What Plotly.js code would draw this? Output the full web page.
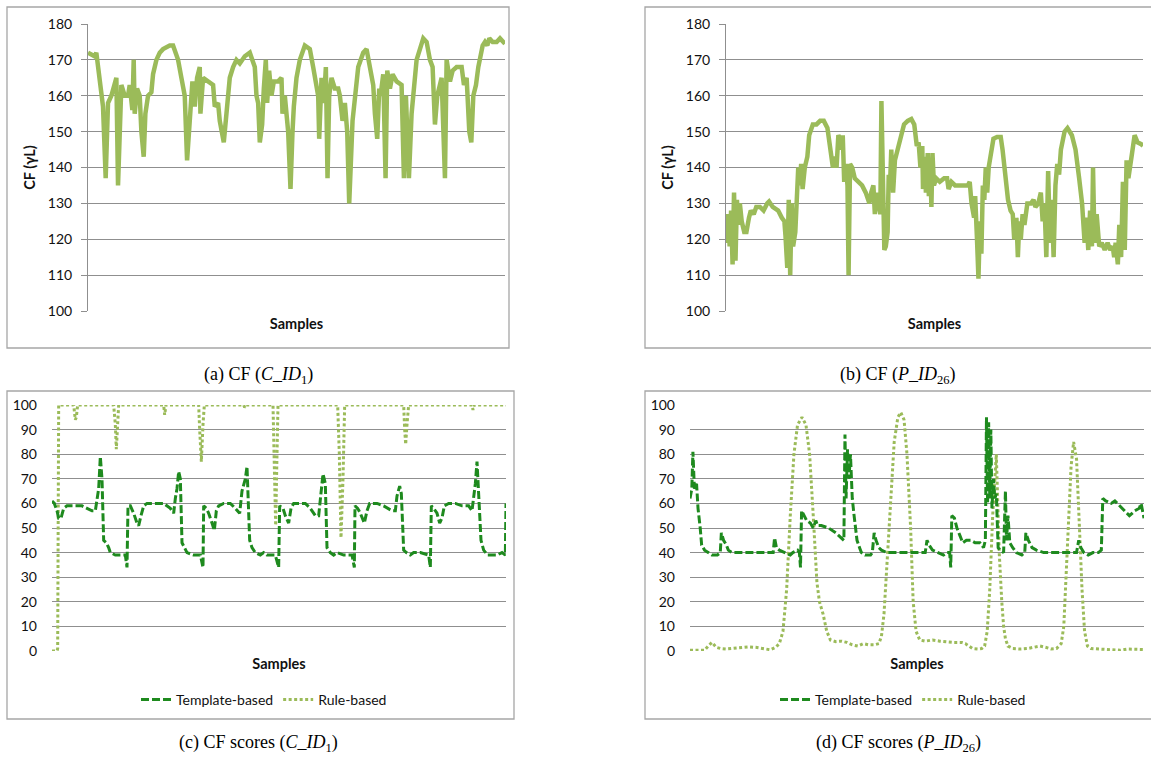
<!DOCTYPE html>
<html><head><meta charset="utf-8">
<script src="https://cdn.plot.ly/plotly-3.0.1.min.js"></script>
<style>html,body{margin:0;padding:0;background:#fff}#chart{width:1151px;height:760px}</style>
</head><body><div id="chart"></div>
<script>
// ---------- (a) CF (C_ID1) ----------
const sampA = [265,285,290,295,303,310,318,325,335,345,350,355,365,375,385,390,398,402,405,412,420,425,432,437,445,455,460,470,480,490,510,520,535,545,555,562,570,578,585,592,600,602,610,625,640,645,655,660,668,672,680,685,690,700,710,720,735,750,765,770,775,780,787,792,798,802,808,815,822,835,845,848,855,865,872,878,882,890,900,915,930,940,948,955,958,965,972,978,983,988,995,1005,1015,1020,1028,1035,1042,1048,1058,1065,1075,1090,1100,1110,1120,1125,1132,1138,1142,1150,1157,1162,1170,1178,1190,1205,1212,1218,1227,1235,1240,1250,1260,1270,1280,1290,1298,1305,1312,1325,1335,1340,1350,1358,1370,1385,1392,1400,1408,1414,1420,1428,1435,1448,1455,1462,1468,1478,1490,1500,1510,1515];
const cfA   = [172,171,172,168,163,157,137,158,160,163,165,135,163,160,160,163,156,170,155,162,160,150,143,155,160,161,166,170,172,173,174,174,170,165,160,142,155,164,157,165,168,155,165,164,163,157,158,153,148,147,155,160,165,168,170,169,171,172,168,160,158,147,152,162,170,158,167,160,164,164,165,155,160,150,134,150,157,165,170,174,173,168,163,160,148,165,158,168,137,160,165,162,162,160,153,158,150,130,153,160,168,172,173,168,163,155,148,162,160,166,137,167,162,166,164,163,137,160,137,155,160,170,173,176,175,170,168,152,160,165,137,170,164,167,168,168,163,165,150,147,160,163,168,174,175,174,176,175,175,176,175,174.5];

// ---------- (b) CF (P_ID26) ----------
const sampB = [402,405,408,412,416,420,424,428,432,436,440,445,452,458,465,470,478,485,495,505,515,520,530,545,555,562,565,570,574,578,582,586,592,596,600,604,608,612,618,625,630,640,650,660,670,680,685,690,695,700,705,710,715,720,722,726,730,735,738,742,748,755,765,775,785,795,800,806,810,815,820,825,828,833,836,840,845,848,852,855,860,865,872,880,890,900,910,918,925,930,935,940,942,946,950,955,958,962,965,968,972,978,988,1000,1008,1012,1020,1030,1040,1055,1065,1070,1075,1082,1085,1090,1094,1098,1102,1106,1110,1114,1118,1122,1128,1135,1145,1155,1160,1168,1175,1182,1188,1192,1198,1202,1206,1210,1215,1220,1228,1238,1245,1250,1258,1265,1270,1275,1280,1285,1290,1295,1300,1305,1310,1315,1320,1330,1338,1350,1360,1370,1378,1385,1390,1395,1400,1405,1408,1412,1418,1425,1432,1440,1448,1455,1462,1466,1470,1476,1480,1485,1490,1495,1500,1505,1510,1515,1522,1530,1540,1545];
const cfB   = [121,119,127,118,128,113,133,114,131,124,130,125,122,122,126,128,127,129,129,128,130,130.5,129,128,126,125,121,112,131,110,130,118,122,134,140,135,141,134,140,143,149,152,152,153,153,151,147,145,140,143,140,149,148,145,149,136,141,135,110,141,140,137,136,135,133,130,133,135,127,133,130,127,158.5,132,117,118,122,138,136,145,133,142,145,149,152,153,153.5,152,146,147,140,146,134,143,133,144,132,141,129,144,135,137,136,137,137,134,136,135,135,135,135,136,130,126,132,120,109,125,116,135,131,140,133,140,144,148,148.5,148.5,145,138,131,128,127,120,126,115,125,120,127,124,130,130,131,129,130,133,125,130,115,139,119,131,115,135,141,138,145,150,151,149,145,137,130,119,126,117,128,118,140,119,127,118,119,117,119,117,118,115,119,113,124,115,136,117,142,137,142,144,149,147,146.5,146];

// ---------- (c) CF scores (C_ID1) ----------
const sampCTemplate = [155,162,170,175,182,190,200,230,245,260,275,285,290,295,300,305,310,318,325,330,345,375,380,383,390,400,410,415,422,430,440,470,490,510,520,525,530,535,540,545,552,560,580,600,608,610,618,625,635,642,648,655,670,690,705,718,725,735,740,748,755,765,780,790,800,825,835,838,848,855,865,872,880,900,915,930,945,955,962,968,975,980,990,1000,1010,1030,1055,1062,1064,1072,1080,1092,1100,1108,1130,1150,1175,1185,1190,1198,1203,1210,1218,1230,1240,1260,1285,1290,1293,1300,1310,1318,1325,1332,1345,1365,1385,1405,1415,1420,1425,1430,1435,1442,1450,1462,1480,1490,1505,1515,1517];
const templateC = [61,60,57,54,54,58,59,59,59,58,57,57,62,66,79,70,45,44,42,40,39,39,34,59,59,56,52,51,55,59,60,60,60,58,56,62,66,73,70,44,42,40,39,39,34,59,58,56,52,49,57,59,60,60,58,56,65,70,75,45,42,40,39,40,39,39,34,59,58,55,52,58,60,60,60,58,55,55,65,72,68,42,40,39,40,39,39,34,59,58,56,52,57,60,60,59,57,57,63,67,64,41,40,39,40,40,39,34,59,58,56,52,54,59,60,60,59,59,57,63,68,77,65,45,41,39,39,39,40,39,60];
const sampCRule = [155,170,172,175,220,225,228,232,340,345,348,352,355,490,493,497,595,598,603,608,612,730,733,737,818,822,826,830,833,1012,1017,1022,1028,1033,1210,1213,1216,1220,1225,1415,1418,1422,1517];
const ruleC = [0,0,1,100,100,94,95,100,100,92,82,90,100,100,96,100,100,90,77,92,100,100,99,100,100,75,51,80,100,100,80,46,70,100,100,90,84,92,100,100,98,100,100];

// ---------- (d) CF scores (P_ID26) ----------
const sampDTemplate = [300,305,308,312,318,322,328,332,340,350,360,375,383,386,392,400,405,415,440,470,500,528,532,537,545,560,575,582,595,600,603,606,612,620,630,638,645,650,660,680,700,715,722,725,728,732,736,740,745,750,758,765,770,780,795,800,805,810,818,825,840,870,900,930,945,950,956,965,980,995,1005,1012,1015,1018,1025,1032,1040,1048,1058,1070,1082,1095,1105,1110,1113,1116,1119,1122,1125,1128,1132,1136,1140,1145,1150,1160,1165,1168,1172,1177,1185,1195,1210,1218,1221,1228,1238,1250,1270,1300,1330,1360,1366,1372,1380,1392,1405,1420,1428,1432,1440,1455,1465,1478,1490,1505,1520,1532,1537,1542,1545];
const templateD = [62,66,81,66,68,58,50,43,41,40,39,39,40,48,45,43,41,40,40,40,40,40,46,42,41,40,39,40,41,40,34,57,55,53,52,50,53,51,51,50,48,46,45,88,62,82,70,80,62,55,45,42,40,39,39,40,48,45,42,41,40,40,40,40,40,45,43,41,40,39,40,40,34,55,54,50,47,44,45,45,44,44,42,45,95,60,93,62,90,58,70,62,64,42,41,40,65,45,55,44,42,40,39,40,48,45,42,41,40,40,40,40,45,42,40,39,40,40,41,62,61,60,61,59,57,55,57,58,60,56,54];
const sampDRule = [300,340,350,360,372,385,400,420,440,460,480,500,520,535,545,555,565,575,585,595,607,618,628,638,648,655,665,675,685,700,715,730,745,760,775,790,805,818,825,832,840,850,860,870,878,887,895,905,912,920,930,945,965,985,1000,1020,1045,1055,1065,1075,1090,1100,1108,1115,1122,1130,1140,1148,1155,1160,1165,1172,1185,1205,1225,1245,1260,1275,1290,1305,1318,1325,1335,1345,1352,1360,1368,1375,1382,1390,1400,1420,1450,1480,1500,1520,1545];
const ruleD = [0.3,0.3,2,3.5,1.5,1,0.8,1.2,1.5,1.7,1.5,1,0.5,1.5,3,8,25,55,80,92,95,92,80,55,28,20,15,8,4.5,3.8,4,3.5,2.5,2,3,2.5,2.5,3,6,15,35,65,85,95,97,94,80,50,20,8,4.5,4,4.5,4,3.8,3.5,3.5,3,2,1,0.8,1,2,8,25,55,80,40,20,10,5,2,1,0.8,1,1.5,2,1.5,0.8,1,3,10,40,75,85,78,50,25,8,2,1,0.8,0.5,0.3,0.8,0.6,0.6];

// ---------- text ----------
const yTitleCF = '<b>CF (γL)</b>';
const xTitle = '<b>Samples</b>';
const seriesNames = ['Template-based', 'Rule-based'];
const captions = ['(a) CF (<i>C_ID</i><sub>1</sub>)', '(b) CF (<i>P_ID</i><sub>26</sub>)',
                  '(c) CF scores (<i>C_ID</i><sub>1</sub>)', '(d) CF scores (<i>P_ID</i><sub>26</sub>)'];

// ---------- styling / layout ----------
const W = 1151, H = 760;
const fx = v => v / W, fy = v => 1 - v / H;
const LIGHT = '#9bbb59', DARK = '#1e8a1e', GRID = '#8f8f8f', BOX = '#a6a6a6';

const traces = [
  {x: sampA, y: cfA, xaxis: 'x', yaxis: 'y', mode: 'lines', line: {color: LIGHT, width: 4.5}, showlegend: false},
  {x: sampB, y: cfB, xaxis: 'x2', yaxis: 'y2', mode: 'lines', line: {color: LIGHT, width: 4.5}, showlegend: false},
  {x: sampCTemplate, y: templateC, xaxis: 'x3', yaxis: 'y3', mode: 'lines', name: seriesNames[0], legend: 'legend',
   line: {color: DARK, width: 3, dash: '8px,3px'}},
  {x: sampCRule, y: ruleC, xaxis: 'x3', yaxis: 'y3', mode: 'lines', name: seriesNames[1], legend: 'legend',
   line: {color: LIGHT, width: 3, dash: '3px,2.5px'}},
  {x: sampDTemplate, y: templateD, xaxis: 'x4', yaxis: 'y4', mode: 'lines', name: seriesNames[0], legend: 'legend2',
   line: {color: DARK, width: 3, dash: '8px,3px'}},
  {x: sampDRule, y: ruleD, xaxis: 'x4', yaxis: 'y4', mode: 'lines', name: seriesNames[1], legend: 'legend2',
   line: {color: LIGHT, width: 3, dash: '3px,2.5px'}}
];
// draw rule-based below template in (c) & (d)
const ordered = [traces[0], traces[1], traces[3], traces[2], traces[5], traces[4]];

const tickFont = {family: 'Lato, sans-serif', size: 14, color: '#111'};
const titleFont = {family: 'Lato, sans-serif', size: 14.5, color: '#111'};

function xAx(dom, range, anchor) {
  return {domain: dom, range: range, anchor: anchor, showgrid: false, showticklabels: false, zeroline: false,
          showline: false, ticks: '', fixedrange: true,
          title: {text: xTitle, font: titleFont, standoff: 7}};
}
function yAx(dom, range, anchor, withLine, title) {
  const o = {domain: dom, range: range, anchor: anchor, dtick: 10, tick0: 0, showgrid: true, gridcolor: GRID, gridwidth: 1,
          zeroline: false, tickfont: tickFont, fixedrange: true, ticklabelstandoff: withLine ? 6 : 14};
  if (withLine) {
    Object.assign(o, {showline: true, linecolor: GRID, linewidth: 1, ticks: 'outside', ticklen: 6, tickcolor: GRID});
    o.title = {text: title, font: titleFont, standoff: 8};
  } else {
    Object.assign(o, {showline: false, ticks: ''});
  }
  return o;
}

const layout = {
  width: W, height: H, margin: {l: 0, r: 0, t: 0, b: 0}, paper_bgcolor: '#fff', plot_bgcolor: 'rgba(0,0,0,0)',
  font: {family: 'Lato, sans-serif', color: '#111'},
  xaxis:  xAx([fx(88), fx(505)], [265, 1515], 'y'),
  yaxis:  yAx([fy(311), fy(24)], [100, 180], 'x', true, yTitleCF),
  xaxis2: xAx([fx(726), fx(1143)], [402, 1545], 'y2'),
  yaxis2: yAx([fy(311), fy(24)], [100, 180], 'x2', true, yTitleCF),
  xaxis3: xAx([fx(52), fx(506)], [155, 1517], 'y3'),
  yaxis3: yAx([fy(651), fy(405)], [0, 100], 'x3', false),
  xaxis4: xAx([fx(690), fx(1144)], [300, 1545], 'y4'),
  yaxis4: yAx([fy(651), fy(405)], [0, 100], 'x4', false),
  legend:  {orientation: 'h', x: fx(264), xanchor: 'center', y: fy(700), yanchor: 'middle',
            font: {family: 'Lato, sans-serif', size: 14, color: '#111'}, bgcolor: 'rgba(0,0,0,0)', traceorder: 'reversed'},
  legend2: {orientation: 'h', x: fx(903), xanchor: 'center', y: fy(700), yanchor: 'middle',
            font: {family: 'Lato, sans-serif', size: 14, color: '#111'}, bgcolor: 'rgba(0,0,0,0)', traceorder: 'reversed'},
  shapes: [
    {type: 'rect', xref: 'paper', yref: 'paper', x0: fx(7), x1: fx(509), y0: fy(348), y1: fy(7), line: {color: BOX, width: 1.3}},
    {type: 'rect', xref: 'paper', yref: 'paper', x0: fx(645), x1: fx(1160), y0: fy(348), y1: fy(7), line: {color: BOX, width: 1.3}},
    {type: 'rect', xref: 'paper', yref: 'paper', x0: fx(7), x1: fx(514), y0: fy(719), y1: fy(391), line: {color: BOX, width: 1.3}},
    {type: 'rect', xref: 'paper', yref: 'paper', x0: fx(645), x1: fx(1160), y0: fy(719), y1: fy(391), line: {color: BOX, width: 1.3}}
  ],
  annotations: [
    [258, 375], [898, 375], [258, 743], [898, 743]
  ].map((p, i) => ({xref: 'paper', yref: 'paper', x: fx(p[0]), y: fy(p[1]), xanchor: 'center', yanchor: 'middle',
     showarrow: false, text: captions[i], font: {family: 'Liberation Serif, Times New Roman, serif', size: 18, color: '#000'}}))
};

Plotly.newPlot('chart', ordered, layout, {displayModeBar: false, staticPlot: true});
</script></body></html>
